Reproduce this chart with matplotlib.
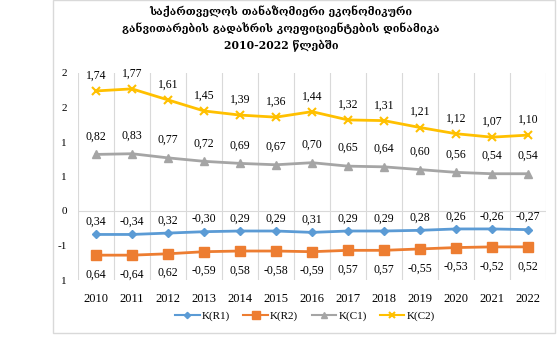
import matplotlib.pyplot as plt
from matplotlib.patches import Rectangle

# data
years = ['2010', '2011', '2012', '2013', '2014', '2015', '2016',
         '2017', '2018', '2019', '2020', '2021', '2022']
k_r1 = [-0.34, -0.34, -0.32, -0.30, -0.29, -0.29, -0.31, -0.29, -0.29, -0.28, -0.26, -0.26, -0.27]
k_r2 = [-0.64, -0.64, -0.62, -0.59, -0.58, -0.58, -0.59, -0.57, -0.57, -0.55, -0.53, -0.52, -0.52]
k_c1 = [0.82, 0.83, 0.77, 0.72, 0.69, 0.67, 0.70, 0.65, 0.64, 0.60, 0.56, 0.54, 0.54]
k_c2 = [1.74, 1.77, 1.61, 1.45, 1.39, 1.36, 1.44, 1.32, 1.31, 1.21, 1.12, 1.07, 1.10]

# data labels as printed in the source (some minus signs are missing there)
lab_r1 = ['0,34', '-0,34', '0,32', '-0,30', '0,29', '0,29', '0,31',
          '0,29', '0,29', '0,28', '0,26', '-0,26', '-0,27']
lab_r2 = ['0,64', '-0,64', '0,62', '-0,59', '0,58', '-0,58', '-0,59',
          '0,57', '0,57', '-0,55', '-0,53', '-0,52', '0,52']
lab_c1 = ['0,82', '0,83', '0,77', '0,72', '0,69', '0,67', '0,70',
          '0,65', '0,64', '0,60', '0,56', '0,54', '0,54']
lab_c2 = ['1,74', '1,77', '1,61', '1,45', '1,39', '1,36', '1,44',
          '1,32', '1,31', '1,21', '1,12', '1,07', '1,10']

ytick_vals = [2, 1.5, 1, 0.5, 0, -0.5, -1]
ytick_labs = ['2', '2', '1', '1', '0', '-1', '1']

title = ('საქართველოს თანაზომიერი ეკონომიკური\n'
         'განვითარების გადახრის კოეფიციენტების დინამიკა\n'
         '2010-2022 წლებში')

serif = 'Liberation Serif'

fig = plt.figure(figsize=(5.58, 3.44), dpi=100)
fig.patches.append(Rectangle((53 / 558, 11 / 344), 502 / 558, 333 / 344,
                             transform=fig.transFigure, fill=False,
                             edgecolor='#d9d9d9', linewidth=1))

ax = fig.add_axes([78 / 558, 64 / 344, 468 / 558, 207 / 344])
x = list(range(len(years)))

series = [
    (k_r1, lab_r1, 'K(R1)', '#5B9BD5', 'D', 4, 9),
    (k_r2, lab_r2, 'K(R2)', '#ED7D31', 's', 7, -14),
    (k_c1, lab_c1, 'K(C1)', '#A5A5A5', '^', 6, 13),
    (k_c2, lab_c2, 'K(C2)', '#FFC000', 'x', 6, 11),
]
for vals, labs, name, col, mk, ms, dy in series:
    ax.plot(x, vals, color=col, marker=mk, markersize=ms, linewidth=2,
            markeredgewidth=1.5 if mk == 'x' else 1, label=name)
    for xi, v, t in zip(x, vals, labs):
        ax.annotate(t, (xi, v), xytext=(0, dy), textcoords='offset points',
                    ha='center', va='center', fontsize=8.5, family=serif)

ax.set_xlim(-0.5, len(years) - 0.5)
ax.set_ylim(-1, 2)
ax.set_xticks(x)
ax.set_xticklabels(years, family=serif, fontsize=9)
ax.set_yticks(ytick_vals)
ax.set_yticklabels(ytick_labs, family=serif, fontsize=8)
ax.tick_params(length=0, pad=8)
ax.tick_params(axis='x', pad=9)

for b in range(len(years) + 1):
    ax.axvline(b - 0.5, color='#d9d9d9', linewidth=0.8, zorder=0)
ax.axhline(0, color='#d9d9d9', linewidth=0.8, zorder=0)
for s in ax.spines.values():
    s.set_visible(False)

fig.text(281 / 558, 1 - 29 / 344, title, ha='center', va='center',
         fontsize=7.8, family='DejaVu Serif', fontweight='semibold',
         linespacing=1.55)

leg = fig.legend(loc='center', bbox_to_anchor=(305 / 558, 28 / 344), ncol=4,
                 frameon=False, prop={'family': serif, 'size': 8},
                 handlelength=2.2, columnspacing=1.2, handletextpad=0.2,
                 markerscale=0.8)
for h in leg.legend_handles:
    h.set_linewidth(1.5)

fig.savefig('out.png', dpi=100)
